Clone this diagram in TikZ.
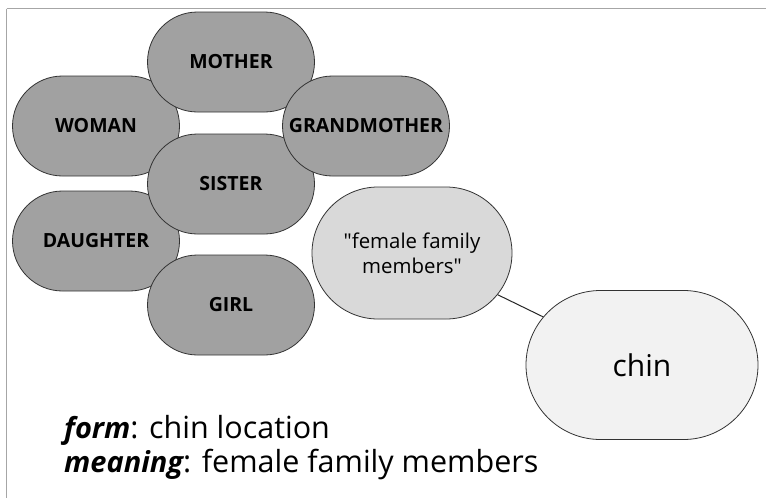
\documentclass[tikz,border=0pt]{standalone}
\usepackage{fontspec}
\usetikzlibrary{shapes.misc}
\setmainfont{Open Sans}
\newcommand{\keyword}[1]{{\fontsize{29}{33}\selectfont\bfseries\itshape #1}}
\begin{document}
\begin{tikzpicture}[x=1pt,y=-1pt,
  frameline/.style={draw=black!35,line width=1.2pt},
  pill/.style={rounded rectangle,draw=black!80,line width=0.8pt,inner sep=0pt},
  concept/.style={pill,fill=black!37,
    minimum width=167pt,minimum height=100pt,
    font=\bfseries\fontsize{19.5}{22}\selectfont},
  sense/.style={pill,fill=black!15,
    minimum width=200pt,minimum height=132pt,
    align=center,font=\fontsize{20.4}{25}\selectfont},
  formnode/.style={pill,fill=black!5,
    minimum width=232pt,minimum height=149pt,
    font=\fontsize{30}{34}\selectfont},
  caption/.style={anchor=base west,inner sep=0pt,font=\fontsize{30.5}{34}\selectfont}]
\useasboundingbox (0,0) rectangle (766,498);
\fill[white] (0,0) rectangle (766,498);
% frame edges
\draw[frameline] (6.5,8.5) -- (766,8.5);
\draw[frameline] (6.5,8.5) -- (6.5,498);
% related concepts, back to front
\node[concept] (woman) at (96,126) {WOMAN};
\node[concept] (daughter) at (96,241) {DAUGHTER};
\node[concept] (mother) at (231,62) {MOTHER};
\node[concept] (sister) at (231,184) {SISTER};
\node[concept] (girl) at (231,305) {GIRL};
\node[concept] (grandmother) at (366,126) {GRANDMOTHER};
% meaning and form
\node[sense] (meaning) at (412,253) {\textquotedbl female family\\members\textquotedbl};
\node[formnode] (chin) at (642,365) {chin};
\draw[line width=1pt,black!85] (meaning) -- (chin);
% caption
\node[caption] (formlabel) at (64,438) {\keyword{form}: chin location};
\node[caption] (meaninglabel) at (64,472) {\keyword{meaning}: female family members};
\end{tikzpicture}
\end{document}
